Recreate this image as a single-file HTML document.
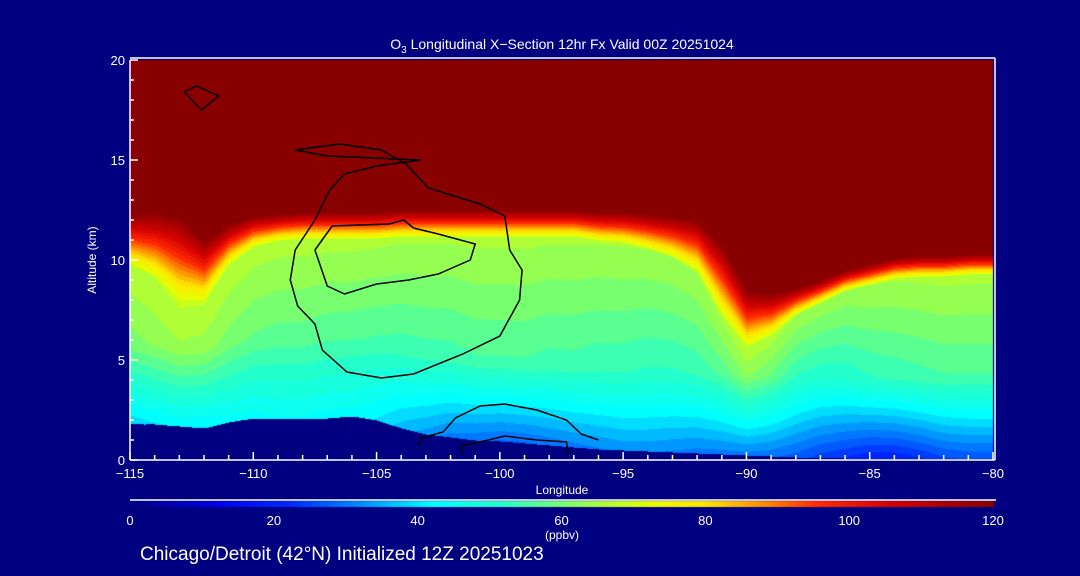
<!DOCTYPE html>
<html><head><meta charset="utf-8"><style>
html,body{margin:0;padding:0;background:#000080;}
#wrap{position:relative;width:1080px;height:576px;background:#000080;overflow:hidden;font-family:"Liberation Sans",sans-serif;color:#fff;}
canvas{position:absolute;left:0;top:0;}
svg{position:absolute;left:0;top:0;}
</style></head><body>
<div id="wrap">
<canvas id="cv" width="1080" height="576"></canvas>
<svg id="sv" width="1080" height="576"></svg>
</div>
<script>
// ---- data ----
const lons      = [-115,-114,-113,-112,-111,-110,-109,-108,-107,-106,-105,-104,-103,-102,-101,-100,-99,-98,-97,-96,-95,-94,-93,-92,-91,-90,-89,-88,-87,-86,-85,-84,-83,-82,-81,-80];
const tropoKm   = [12.3,12.4,12.2,11.0,11.8,12.2,12.3,12.4,12.4,12.4,12.4,12.5,12.5,12.5,12.5,12.5,12.5,12.5,12.5,12.4,12.4,12.3,12.2,12.0,10.8,8.5,8.3,8.6,9.0,9.5,9.8,10.1,10.2,10.2,10.3,10.3];
const transKm   = [2.5,3.2,4.2,3.0,2.0,1.5,1.3,1.3,1.3,1.3,1.3,1.3,1.3,1.3,1.3,1.3,1.3,1.3,1.3,1.4,1.5,1.7,2.0,2.5,3.5,2.8,2.0,1.3,1.1,1.0,1.0,1.0,1.0,1.0,1.0,1.0];
const surfaceKm = [1.8,1.8,1.7,1.6,1.9,2.1,2.1,2.1,2.1,2.2,2.0,1.6,1.3,1.15,1.0,0.95,0.85,0.75,0.65,0.55,0.5,0.45,0.4,0.35,0.3,0.25,0.2,0.15,0.12,0.1,0.1,0.1,0.1,0.1,0.1,0.1];
const o3Surf    = [38,40,41,40,42,42,43,43,42,42,40,36,33,30,29,28,28,29,30,31,32,32,31,30,30,30,29,27,24,22,20,20,22,25,26,26];
const o3Mid     = [60,62,64,63,60,58,57,57,56,56,55,54,54,54,55,55,55,54,54,53,53,52,52,53,56,62,58,52,50,50,52,53,54,55,55,55];
const xTicks    = [-115,-110,-105,-100,-95,-90,-85,-80];
const yTicks    = [0,5,10,15,20];
const cbTicks   = [0,20,40,60,80,100,120];
// contour lines (lon, km)
const c0a = [[-108.3,15.5],[-106.5,15.8],[-104.8,15.5],[-103.8,14.8],[-102.9,13.6],[-100.8,12.8],[-99.8,12.2],[-99.6,10.5],[-99.1,9.5],[-99.2,8.0],[-100.0,6.2],[-101.5,5.3],[-103.5,4.3],[-104.8,4.1],[-106.2,4.4],[-107.2,5.5],[-107.5,6.8],[-108.2,7.7],[-108.5,9.0],[-108.3,10.5],[-107.5,12.0],[-106.9,13.5],[-106.3,14.3],[-105.0,14.7],[-103.2,15.0],[-105.0,15.1],[-107.0,15.2],[-108.3,15.5]];
const c0b = [[-107.5,10.5],[-106.8,11.7],[-104.5,11.8],[-103.9,12.0],[-103.5,11.6],[-102.5,11.3],[-101.0,10.8],[-101.2,10.0],[-102.5,9.3],[-103.7,9.0],[-105.0,8.8],[-106.3,8.3],[-107.0,8.7],[-107.5,10.5]];
const c0c = [[-103.3,0.7],[-103.2,1.1],[-102.3,1.4],[-101.8,2.1],[-100.8,2.7],[-99.8,2.8],[-98.5,2.5],[-97.3,2.0],[-96.7,1.3],[-96.0,1.0]];
const c0d = [[-101.5,0.3],[-101.6,0.7],[-100.8,0.9],[-99.8,1.2],[-98.5,1.0],[-97.3,0.9],[-97.2,0.3]];
const c0e = [[-112.8,18.4],[-112.3,18.7],[-111.4,18.2],[-112.1,17.5],[-112.8,18.4]];
// ---- axes ----
const X0=130,X1=993,Y0=460,Y1=60;
const xs=l=>X0+(l+115)/35*(X1-X0);
const ys=z=>Y0-z/20*(Y0-Y1);
const stops=[[0,[0,0,128]],[12,[0,0,230]],[22,[0,40,255]],[32,[0,140,255]],[42,[0,255,255]],[52,[40,255,200]],[62,[140,255,90]],[72,[230,255,0]],[80,[255,230,0]],[88,[255,140,0]],[96,[255,40,0]],[106,[210,0,0]],[120,[136,0,0]]];
function cmap(v){v=Math.max(0,Math.min(120,v));for(let i=1;i<stops.length;i++){if(v<=stops[i][0]){const a=stops[i-1],b=stops[i],t=(v-a[0])/(b[0]-a[0]);return a[1].map((c,k)=>Math.round(c+(b[1][k]-c)*t));}}return stops[stops.length-1][1];}
function interp(arr,l){const f=(l+115);const i=Math.max(0,Math.min(arr.length-2,Math.floor(f)));const t=f-i;return arr[i]*(1-t)+arr[i+1]*t;}
const cv=document.getElementById('cv'),ctx=cv.getContext('2d');
const img=ctx.createImageData(X1-X0,Y0-Y1);
for(let py=0;py<Y0-Y1;py++){const z=(Y0-Y1-py)/(Y0-Y1)*20;
 for(let px=0;px<X1-X0;px++){const l=-115+px/(X1-X0)*35;
  const sf=interp(surfaceKm,l),tp=interp(tropoKm,l),tr=interp(transKm,l),s=interp(o3Surf,l),m=interp(o3Mid,l);
  let col;
  if(z<sf)col=[0,0,128];
  else{let v;const base=tp-tr;
   if(z>=tp)v=120;
   else if(z>base){v=70+(z-base)/tr*50;}
   else{const zz=z-sf;v=zz<4?s+(m-s)*zz/4:m+(Math.min(zz,base)-4)/Math.max(1,base-sf-4)*(70-m)*0.7;}
   v=Math.round(v/3)*3;col=cmap(v);}
  const o=(py*(X1-X0)+px)*4;img.data[o]=col[0];img.data[o+1]=col[1];img.data[o+2]=col[2];img.data[o+3]=255;}}
ctx.putImageData(img,X0,Y1);
// colorbar
for(let i=0;i<=X1-X0;i++){const c=cmap(i/(X1-X0)*120);ctx.fillStyle=`rgb(${c[0]},${c[1]},${c[2]})`;ctx.fillRect(X0+i,501,1,6);}
const svg=document.getElementById('sv');const NS='http://www.w3.org/2000/svg';
function el(t,a,txt){const e=document.createElementNS(NS,t);for(const k in a)e.setAttribute(k,a[k]);if(txt!==undefined)e.textContent=txt;svg.appendChild(e);return e;}
function poly(pts,name){const e=el('polyline',{points:pts.map(p=>xs(p[0])+','+ys(p[1])).join(' '),fill:'none',stroke:'#000','stroke-width':1.5});
 
 }
poly(c0a,'contour-zero-upper');poly(c0b,'contour-zero-inner');poly(c0c,'contour-zero-low');poly(c0d,'contour-zero-low-inner');poly(c0e,'contour-zero-small');
const ax=el('g',{stroke:'#fff','stroke-width':1.5});


function ln(x1,y1,x2,y2,g){const e=document.createElementNS(NS,'line');e.setAttribute('x1',x1);e.setAttribute('y1',y1);e.setAttribute('x2',x2);e.setAttribute('y2',y2);g.appendChild(e);}
ln(X0,Y0,X1+2,Y0,ax);ln(X0,Y0,X0,Y1,ax);ln(X0,Y1-2,X1+2,Y1-2,ax);ln(X1+2,Y1-2,X1+2,Y0,ax);ln(X0,500,X1+3,500,ax);
for(let l=-115;l<=-80;l++){const big=l%5===0;ln(xs(l),Y0,xs(l),Y0-(big?8:5),ax);}
for(let z=0;z<=20;z++){ln(X0,ys(z),X0+(z%5===0?8:4),ys(z),ax);}
xTicks.forEach(t=>{const e=el('text',{x:xs(t),y:478,'text-anchor':'middle',fill:'#fff','font-size':13},'\u2212'+Math.abs(t));
 
 });
yTicks.forEach(t=>{const e=el('text',{x:X0-5,y:ys(t)+5,'text-anchor':'end',fill:'#fff','font-size':13},String(t));
 
 });
cbTicks.forEach(t=>{const e=el('text',{x:X0+t/120*(X1-X0),y:525,'text-anchor':'middle',fill:'#fff','font-size':13},String(t));
 
 });
let e;
e=el('text',{x:562,y:49,'text-anchor':'middle',fill:'#fff','font-size':14},'');
e.innerHTML='O<tspan dy="4" font-size="10">3</tspan><tspan dy="-4"> Longitudinal X\u2212Section 12hr  Fx Valid 00Z 20251024</tspan>';


e=el('text',{x:562,y:494,'text-anchor':'middle',fill:'#fff','font-size':12},'Longitude');


e=el('text',{x:96,y:260,'text-anchor':'middle',fill:'#fff','font-size':12,transform:'rotate(-90 96 260)'},'Altitude (km)');


e=el('text',{x:562,y:539,'text-anchor':'middle',fill:'#fff','font-size':12},'(ppbv)');


e=el('text',{x:140,y:560,fill:'#fff','font-size':19},'Chicago/Detroit (42\u00b0N) Initialized 12Z 20251023');


</script>
</body></html>
